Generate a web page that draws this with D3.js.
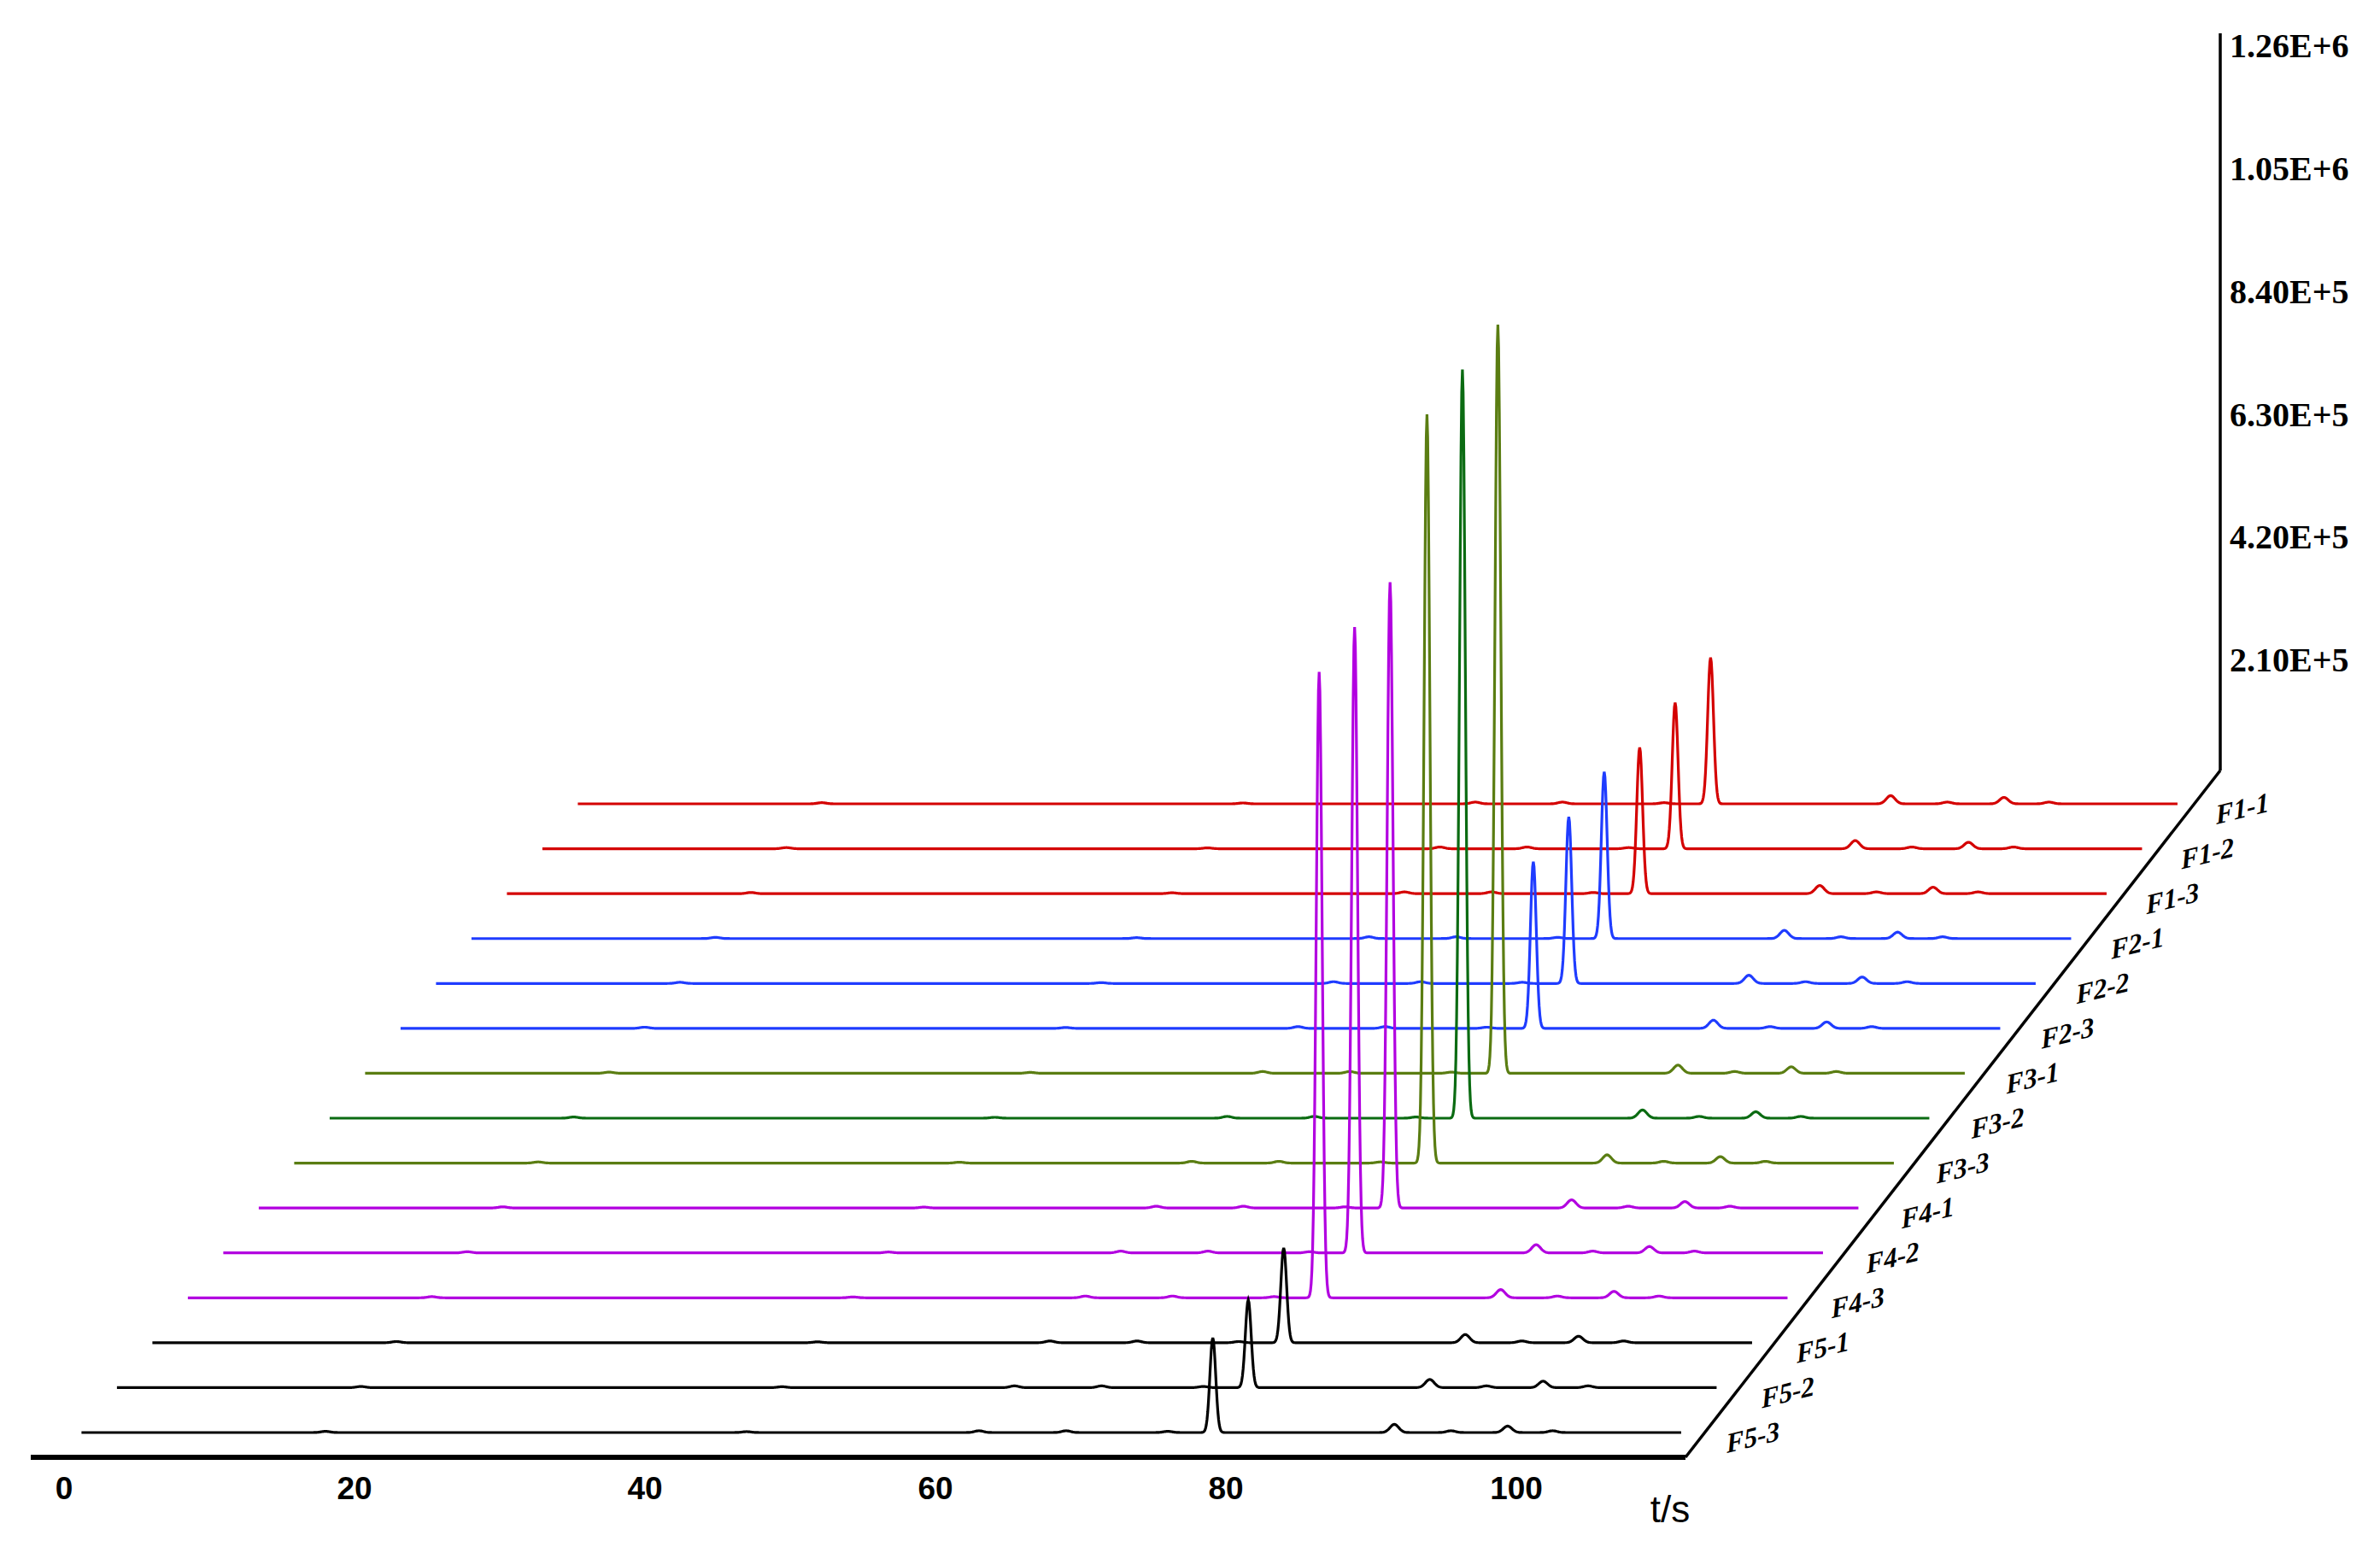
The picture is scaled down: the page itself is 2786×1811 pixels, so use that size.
<!DOCTYPE html>
<html><head><meta charset="utf-8">
<script src="https://d3js.org/d3.v7.min.js"></script>
<style>body{margin:0;background:#fff}</style></head>
<body><svg id="c" width="2786" height="1811"></svg>
<script>
// Data (back to front)
const traceNames = ["F1-1","F1-2","F1-3","F2-1","F2-2","F2-3","F3-1","F3-2","F3-3","F4-1","F4-2","F4-3","F5-1","F5-2","F5-3"];
const traceColors = ["#d40000","#d40000","#d40000","#1f3cff","#1f3cff","#1f3cff","#5a7d12","#0b6b12","#5a7d12","#b200e0","#b200e0","#b200e0","#000","#000","#000"];
const mainPeakTime = [79.2,79.2,79.2,79.2,79.2,79.2,79.2,79.2,79.2,79.1,79.1,79.1,79.1,79.1,79.1];
const mainPeakHeight = [2.5e5,2.5e5,2.5e5,2.85e5,2.85e5,2.85e5,1.28e6,1.28e6,1.28e6,1.07e6,1.07e6,1.07e6,1.62e5,1.5e5,1.62e5];
const minorPeakTimes = [18,47,63,69,76,91.6,95.5,99.4,102.5];
const minorPeakHeights = [2e3,1.5e3,3e3,3e3,2e3,1.4e4,3e3,1.1e4,3e3];
const xTicks = [0,20,40,60,80,100];
const yTicks = [2.1e5,4.2e5,6.3e5,8.4e5,1.05e6,1.26e6];
const yTickLabels = ["2.10E+5","4.20E+5","6.30E+5","8.40E+5","1.05E+6","1.26E+6"];

const svg = d3.select("#c");
const x = d3.scaleLinear().domain([0,100]).range([75,1775]);
const h = d3.scaleLinear().domain([0,2.1e5]).range([0,143.8]);
const frontBase = 1677, stepY = 52.57, stepX = 41.5;
const n = traceNames.length;

// axes
svg.append("line").attr("x1",36).attr("y1",1706).attr("x2",1973).attr("y2",1706).attr("stroke","#000").attr("stroke-width",6);
svg.append("line").attr("x1",1973).attr("y1",1706).attr("x2",2599).attr("y2",902).attr("stroke","#000").attr("stroke-width",3.5);
svg.append("line").attr("x1",2599).attr("y1",902).attr("x2",2599).attr("y2",39).attr("stroke","#000").attr("stroke-width",3.5);
svg.selectAll(".xt").data(xTicks).join("text").attr("x",d=>x(d)).attr("y",1755)
  .attr("text-anchor","middle").attr("font-family","Liberation Sans, Arial").attr("font-weight","bold").attr("font-size",37).text(d=>d);
svg.append("text").attr("x",1955).attr("y",1782).attr("text-anchor","middle").attr("font-family","Liberation Sans, Arial").attr("font-size",44).text("t/s");
const yAxisZero = 917;
svg.selectAll(".yt").data(yTicks).join("text").attr("x",2610).attr("y",(d)=>yAxisZero-h(d)+13)
  .attr("font-family","Liberation Serif, Times New Roman").attr("font-weight","bold").attr("font-size",40).text((d,i)=>yTickLabels[i]);

const line = d3.line().x(d=>d[0]).y(d=>d[1]);
const ts = d3.range(1.2,111.4,0.05);
traceNames.forEach((name,i)=>{
  const depth = n-1-i;
  const base = frontBase - depth*stepY;
  const dx = depth*stepX;
  const pts = ts.map(t=>{
    let v = mainPeakHeight[i]*Math.exp(-0.5*((t-mainPeakTime[i])/0.2)**2);
    minorPeakTimes.forEach((mt,k)=>{ v += minorPeakHeights[k]*Math.exp(-0.5*((t-mt)/0.3)**2); });
    return [x(t)+dx, base-h(v)];
  });
  svg.append("path").attr("d",line(pts)).attr("fill","none").attr("stroke",traceColors[i]).attr("stroke-width",3.2);
  const lx = 1973 + (1706-base)*(626/804) + 26;
  svg.append("text").attr("transform",`translate(${lx},${base+24}) rotate(-14) skewX(-10)`)
    .attr("font-family","Liberation Serif, Times New Roman").attr("font-style","italic").attr("font-weight","bold")
    .attr("font-size",32).text(name);
});
</script></body></html>
